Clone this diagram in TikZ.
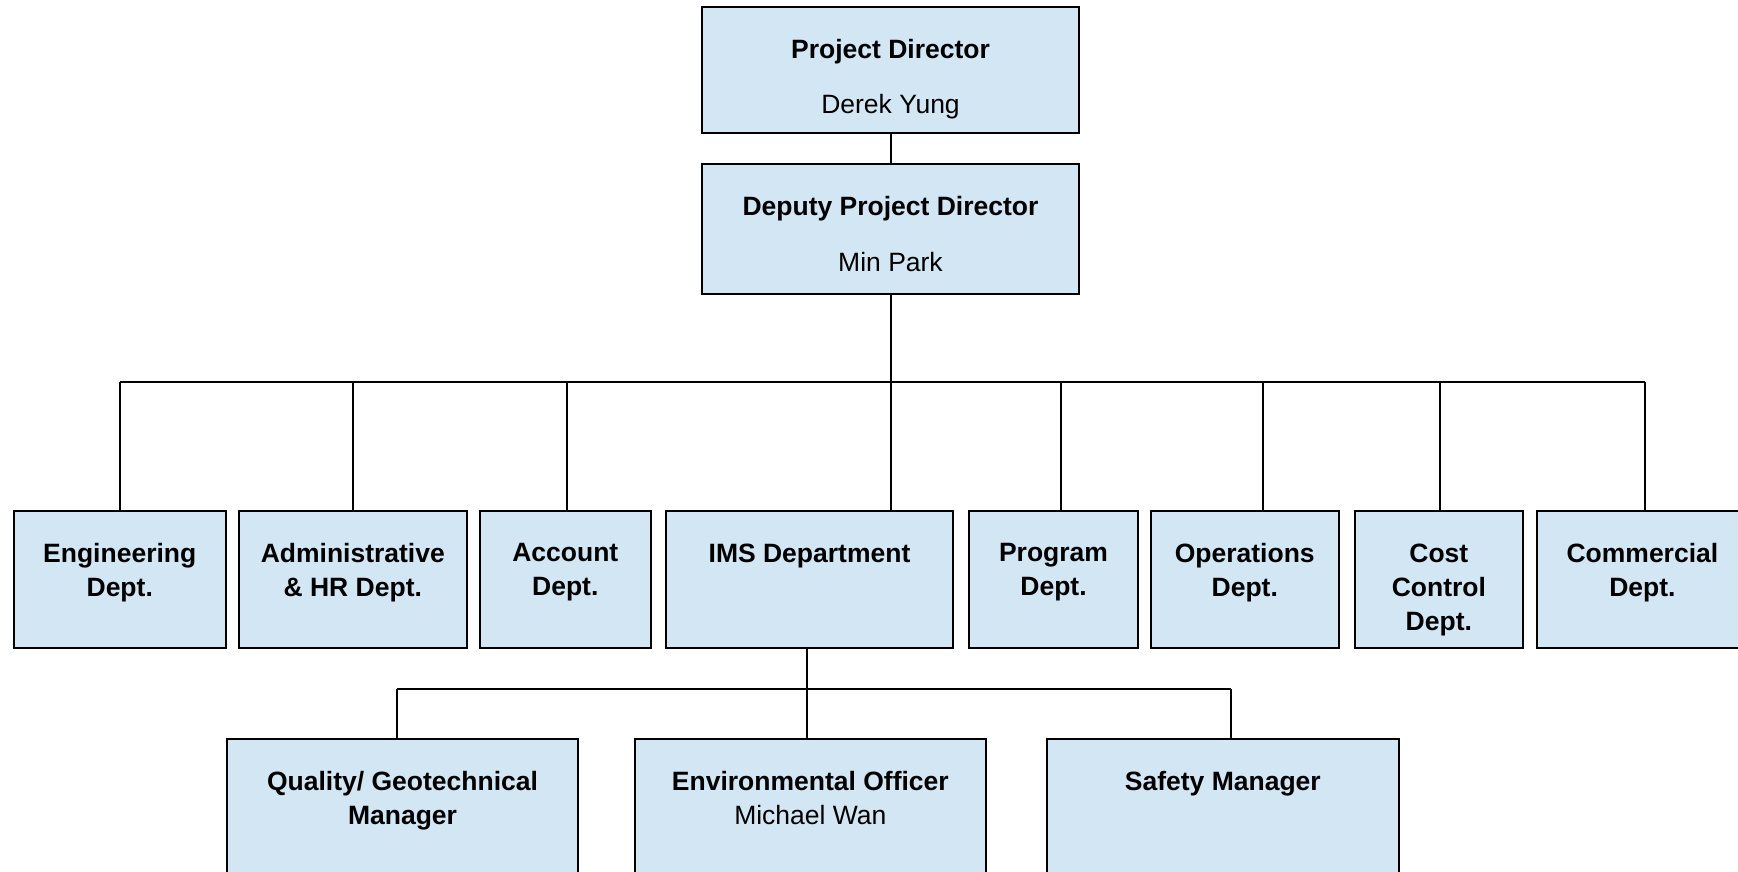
\documentclass[tikz,border=0pt]{standalone}
\usepackage{fontspec}
\setmainfont{Liberation Sans}
\definecolor{boxblue}{RGB}{211,230,244}

\begin{document}
\begin{tikzpicture}
		[x=1pt,y=-1pt,
		box/.style={draw,line width=2pt,fill=boxblue,anchor=north west,inner sep=0pt},
		dept/.style={box,minimum height=137pt},
		staff/.style={box,minimum width=351.7pt,minimum height=200pt},
		txt/.style={anchor=north,inner sep=0pt,yshift=-33.5pt,align=center,font=\fontsize{26.5}{34}\selectfont},
		txtb/.style={txt,font=\fontsize{26.5}{34}\selectfont\bfseries},
		link/.style={line width=2pt}]
		\useasboundingbox (0,0) rectangle (1738,871);
		\clip (0,0) rectangle (1738,871);
		% directors
		\node[box,name=pd,minimum width=377pt,minimum height=126pt,
			label={[txt]north:\textbf{Project Director}\\[21pt]Derek Yung}] at (701,6) {};
		\node[box,name=dpd,minimum width=377pt,minimum height=130pt,
			label={[txt]north:\textbf{Deputy Project Director}\\[22pt]Min Park}] at (701,163) {};
		% departments
		\node[dept,name=eng,minimum width=212.5pt,label={[txtb]north:Engineering\\Dept.}] at (12.5,510) {};
		\node[dept,name=adm,minimum width=227.6pt,label={[txtb]north:Administrative\\\& HR Dept.}] at (238,510) {};
		\node[dept,name=acc,minimum width=170.6pt,label={[txtb]north:Account\\Dept.}] at (479,510) {};
		\node[dept,name=ims,minimum width=287pt,label={[txtb]north:IMS Department}] at (665,510) {};
		\node[dept,name=prg,minimum width=169pt,label={[txtb]north:Program\\Dept.}] at (968,510) {};
		\node[dept,name=ops,minimum width=187.5pt,label={[txtb]north:Operations\\Dept.}] at (1150,510) {};
		\node[dept,name=cst,minimum width=168.3pt,label={[txtb]north:Cost\\Control\\Dept.}] at (1353.7,510) {};
		\node[dept,name=com,minimum width=210pt,label={[txtb]north:Commercial\\Dept.}] at (1536.4,510) {};
		% IMS staff
		\node[staff,name=qual,label={[txtb]north:Quality/ Geotechnical\\Manager}] at (225.7,737.7) {};
		\node[staff,name=env,label={[txt]north:\textbf{Environmental Officer}\\Michael Wan}] at (633.5,737.7) {};
		\node[staff,name=saf,label={[txtb]north:Safety Manager}] at (1046,737.7) {};
		% connectors
		\coordinate (bus) at (889,382);
		\coordinate (bus2) at (806,689);
		\draw[link] (pd.south) -- (dpd.north);
		\draw[link] (dpd.south) -- (dpd.south |- ims.north);
		\draw[link] (eng.north |- bus) -- ([xshift=2.4pt]com.north |- bus);
		\foreach \n/\dx in {eng/0,adm/0,acc/2,prg/7,ops/18,cst/1,com/2.4}
		{
			\draw[link] ([xshift=\dx pt]\n.north) -- ([xshift=\dx pt]\n.north |- bus);
		}
		\draw[link] ([xshift=-2.5pt]ims.south) -- ([xshift=-2.5pt]ims.south |- env.north);
		\draw[link] ([xshift=-5.5pt]qual.north |- bus2) -- ([xshift=7.7pt]saf.north |- bus2);
		\foreach \n/\dx in {qual/-5.5,saf/7.7}
		{
			\draw[link] ([xshift=\dx pt]\n.north) -- ([xshift=\dx pt]\n.north |- bus2);
		}
	\end{tikzpicture}
\end{document}
